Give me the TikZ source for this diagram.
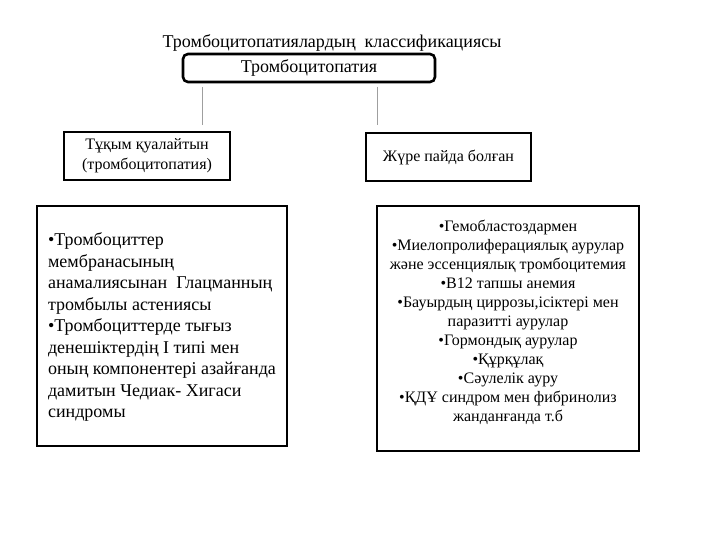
\documentclass[tikz,border=0pt]{standalone}
\usepackage{fontspec}
\setmainfont{Liberation Serif}
\usetikzlibrary{positioning}
\tikzset{
  frame/.style={draw=black,line width=1.6pt,inner sep=0pt,align=center},
  headbox/.style={frame,line width=2.6pt,rounded corners=5pt,minimum width=252pt,minimum height=28pt,font=\fontsize{18}{21}\selectfont},
  kindbox/.style={frame,minimum width=166pt,minimum height=48pt,font=\fontsize{16}{20}\selectfont},
  listbox/.style={frame,line width=2.2pt},
  link/.style={draw=gray!75,line width=0.8pt}
}
\begin{document}
\begin{tikzpicture}[x=1pt,y=-1pt]
\useasboundingbox (0,0) rectangle (720,540);
% heading
\node[font=\fontsize{18}{21}\selectfont] (title) at (332,43) {Тромбоцитопатиялардың\ \ классификациясы};
\node[headbox] (root) at (309,68) {Тромбоцитопатия};
% two kinds
\node[kindbox] (inherit) at (147,156) {Тұқым қуалайтын\\(тромбоцитопатия)};
\node[kindbox,minimum width=165pt] (acquire) at (448.5,157) {Жүре пайда болған};
% lists
\node[listbox,minimum width=250pt,minimum height=240pt] (leftlist) at (162,326) {};
\node[align=left,inner sep=0pt,font=\fontsize{18}{21.5}\selectfont] (leftitems) at (162,327)
  {•Тромбоциттер\\мембранасының\\анамалиясынан\ \ Глацманның\\тромбылы астениясы\\•Тромбоциттерде тығыз\\денешіктердің I типі мен\\оның компонентері азайғанда\\дамитын Чедиак- Хигаси\\синдромы};
\node[listbox,minimum width=262pt,minimum height=245pt] (rightlist) at (508,328.5) {};
\node[align=center,inner sep=0pt,font=\fontsize{16}{19}\selectfont] (rightitems) at (508,322)
  {•Гемобластоздармен\\•Миелопролиферациялық аурулар\\және эссенциялық тромбоцитемия\\•В12 тапшы анемия\\•Бауырдың циррозы,ісіктері мен\\паразитті аурулар\\•Гормондық аурулар\\•Құрқұлақ\\•Сәулелік ауру\\•ҚДҰ синдром мен фибринолиз\\жанданғанда т.б};
% connectors
\coordinate (l1) at (202,87);
\coordinate (l2) at (202,125);
\coordinate (r1) at (377,87);
\coordinate (r2) at (377,125);
\draw[link] (l1) -- (l2);
\draw[link] (r1) -- (r2);
\end{tikzpicture}
\end{document}
